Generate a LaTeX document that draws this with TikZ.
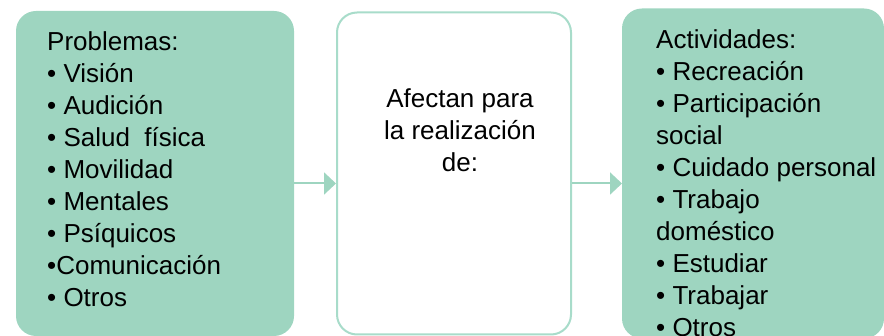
\documentclass[tikz,border=0pt]{standalone}
\usepackage{fontspec}
\setmainfont{Liberation Sans}
\usetikzlibrary{positioning,arrows.meta}
\definecolor{mint}{HTML}{9ED5C0}
\definecolor{mintline}{HTML}{A8DCCA}

\tikzset{
	greenbox/.style={fill=mint, rounded corners=20pt, inner sep=0pt, outer sep=0pt},
	whitebox/.style={draw=mintline, line width=2pt, fill=white, rounded corners=20pt, inner sep=0pt},
	listtext/.style={align=left, inner sep=0pt, font=\fontsize{26}{32}\selectfont},
	midtext/.style={align=center, inner sep=0pt, font=\fontsize{26}{32}\selectfont},
	link/.style={draw=mint, line width=2pt, -{Triangle[length=12pt,width=22pt]}}
}

\begin{document}
\begin{tikzpicture}[x=1pt,y=-1pt]
		\useasboundingbox (0,0) rectangle (884,336);
		% the three boxes
		\node[greenbox, minimum width=278pt, minimum height=325pt, anchor=north west] (prob) at (16,11) {};
		\node[whitebox, minimum width=234pt, minimum height=322pt, right=42pt of prob] (afec) {};
		\node[greenbox, minimum width=262pt, minimum height=330pt, right=50pt of afec] (acti) {};
		% texts
		\node[listtext, anchor=north west] (probtext) at ([xshift=31pt, yshift=-20pt]prob.north west)
		{Problemas:\\ • Visión\\ • Audición\\ • Salud~ física\\ • Movilidad\\ • Mentales\\ • Psíquicos\\ •Comunicación\\ • Otros};
		\node[midtext, anchor=north] (afectext) at ([xshift=6pt, yshift=-77pt]afec.north)
		{Afectan para\\ la realización\\ de:};
		\node[listtext, anchor=north west] (actitext) at ([xshift=34pt, yshift=-21pt]acti.north west)
		{Actividades:\\ • Recreación\\ • Participación\\ social\\ • Cuidado personal\\ • Trabajo\\ doméstico\\ • Estudiar\\ • Trabajar\\ • Otros};
		% arrows
		\draw[link] ([yshift=-10pt]prob.east) -- ([yshift=-10pt]prob.east -| afec.west);
		\draw[link] ([yshift=-10pt]afec.east) -- ([yshift=-10pt]afec.east -| acti.west);
\end{tikzpicture}
\end{document}
